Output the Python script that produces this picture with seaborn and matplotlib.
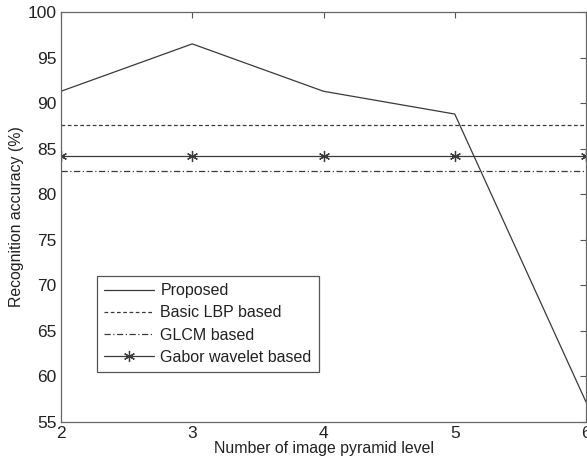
import matplotlib
matplotlib.use("Agg")
import matplotlib.pyplot as plt
import seaborn as sns
import pandas as pd

levels = [2, 3, 4, 5, 6]
proposed = [91.3, 96.5, 91.3, 88.8, 57.2]
basic_lbp = [87.6, 87.6, 87.6, 87.6, 87.6]
glcm = [82.5, 82.5, 82.5, 82.5, 82.5]
gabor = [84.2, 84.2, 84.2, 84.2, 84.2]
series_names = ["Proposed", "Basic LBP based", "GLCM based", "Gabor wavelet based"]

sns.set_theme(style="white")
plt.rcParams['font.family'] = ['Liberation Sans', 'DejaVu Sans']

fig = plt.figure(figsize=(5.87, 4.66), dpi=100)
ax = fig.add_axes([61/587, 44/466, 525/587, 410/466])

col = "#3a3a3a"
sns.lineplot(x=levels, y=proposed, ax=ax, color=col, lw=0.9, label=series_names[0])
sns.lineplot(x=levels, y=basic_lbp, ax=ax, color=col, lw=0.9, label=series_names[1], linestyle=(0, (3, 2)))
sns.lineplot(x=levels, y=glcm, ax=ax, color=col, lw=0.9, label=series_names[2], linestyle=(0, (5, 2, 1, 2)))
sns.lineplot(x=levels, y=gabor, ax=ax, color=col, lw=0.9, label=series_names[3], marker=(6, 2, 0), markersize=8, markeredgecolor=col, markeredgewidth=0.9)

ax.set_xlim(2, 6)
ax.set_ylim(55, 100)
ax.set_xticks(levels)
ax.set_yticks(range(55, 101, 5))
ax.tick_params(direction="in", length=4, width=0.8, color="#555555", top=True, right=True,
               labelsize=12.5, labelcolor="#222222", pad=3)
for s in ax.spines.values():
    s.set_color("#666666")
    s.set_linewidth(0.9)
ax.set_xlabel("Number of image pyramid level", fontsize=11.4, color="#222222", labelpad=0)
ax.set_ylabel("Recognition accuracy (%)", fontsize=11.4, color="#222222", labelpad=3)

leg = ax.legend(loc="upper left", bbox_to_anchor=(0.069, 0.356), fontsize=11.5, frameon=True,
                fancybox=False, edgecolor="#555555", framealpha=1, borderpad=0.45,
                handlelength=3.1, handletextpad=0.4, labelspacing=0.45, borderaxespad=0)
leg.get_frame().set_linewidth(0.9)
for t in leg.get_texts():
    t.set_color("#222222")

fig.savefig("out.png", dpi=100)
